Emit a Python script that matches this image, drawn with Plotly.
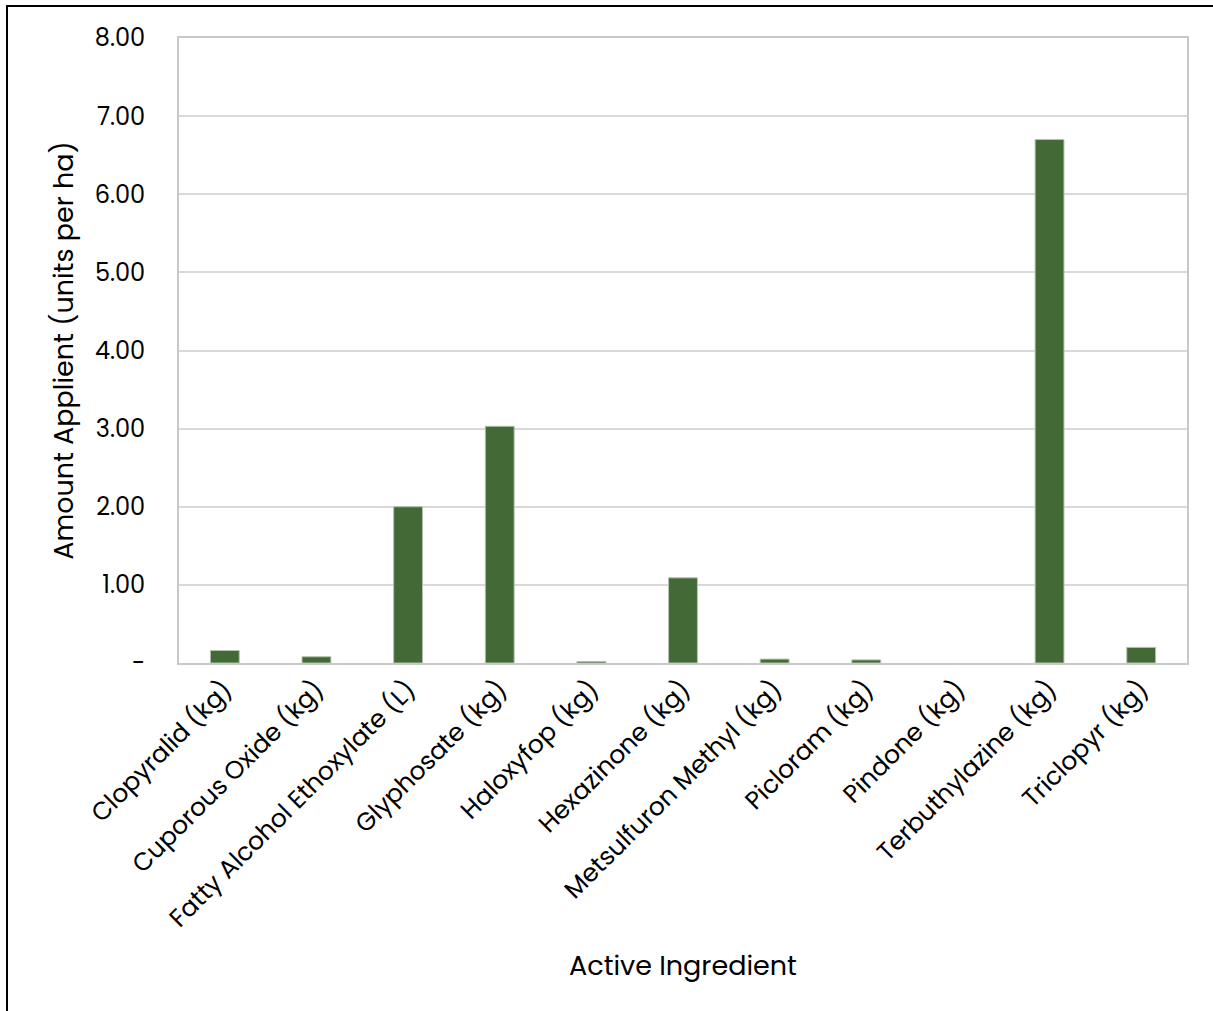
import plotly.graph_objects as go

# Active ingredients and amounts applied (units per ha)
ingredients = [
    "Clopyralid (kg)",
    "Cuporous Oxide (kg)",
    "Fatty Alcohol Ethoxylate (L)",
    "Glyphosate (kg)",
    "Haloxyfop (kg)",
    "Hexazinone (kg)",
    "Metsulfuron Methyl (kg)",
    "Picloram (kg)",
    "Pindone (kg)",
    "Terbuthylazine (kg)",
    "Triclopyr (kg)",
]
amounts = [0.16, 0.08, 2.00, 3.03, 0.02, 1.09, 0.05, 0.04, 0.0, 6.70, 0.20]

y_tick_vals = [0, 1, 2, 3, 4, 5, 6, 7, 8]
y_tick_text = ["-", "1.00", "2.00", "3.00", "4.00", "5.00", "6.00", "7.00", "8.00"]

FONT = "Poppins, Open Sans, sans-serif"

# No outline on empty bars so they stay invisible
outline_widths = [1 if v > 0 else 0 for v in amounts]

fig = go.Figure(
    go.Bar(
        x=ingredients,
        y=amounts,
        marker=dict(color="#436936", line=dict(color="#b5c2ae", width=outline_widths)),
    )
)

W, H = 1213, 1011
ml, mr, mt, mb = 179, 26, 38, 348
pw, ph = W - ml - mr, H - mt - mb

# Outer frame (left and top edges)
x_left = (7 - ml) / pw
y_top = (H - mb - 6) / ph
fig.add_shape(
    type="path",
    xref="paper", yref="paper",
    path=f"M {x_left},-1 L {x_left},{y_top} L 1.2,{y_top}",
    line=dict(color="#000000", width=2),
)

fig.update_layout(
    width=W, height=H,
    margin=dict(l=ml, r=mr, t=mt, b=mb),
    paper_bgcolor="white",
    plot_bgcolor="white",
    bargap=0.685,
    showlegend=False,
    font=dict(family=FONT, color="#000000", size=24),
    xaxis=dict(
        title=dict(text="Active Ingredient", font=dict(size=27), standoff=22),
        tickangle=-45,
        tickfont=dict(size=25),
        showline=True, mirror=True, linecolor="#c8c8c8", linewidth=2,
        showgrid=False,
        ticks="",
    ),
    yaxis=dict(
        title=dict(text="Amount Applient (units per ha)", font=dict(size=27), standoff=13),
        range=[0, 8],
        tickvals=y_tick_vals,
        ticktext=y_tick_text,
        tickfont=dict(size=24),
        ticklabelstandoff=27,
        showline=True, mirror=True, linecolor="#c8c8c8", linewidth=2,
        showgrid=True, gridcolor="#d9d9d9", gridwidth=1.5,
        zeroline=False,
        ticks="",
    ),
)

fig.write_html("out.html")
